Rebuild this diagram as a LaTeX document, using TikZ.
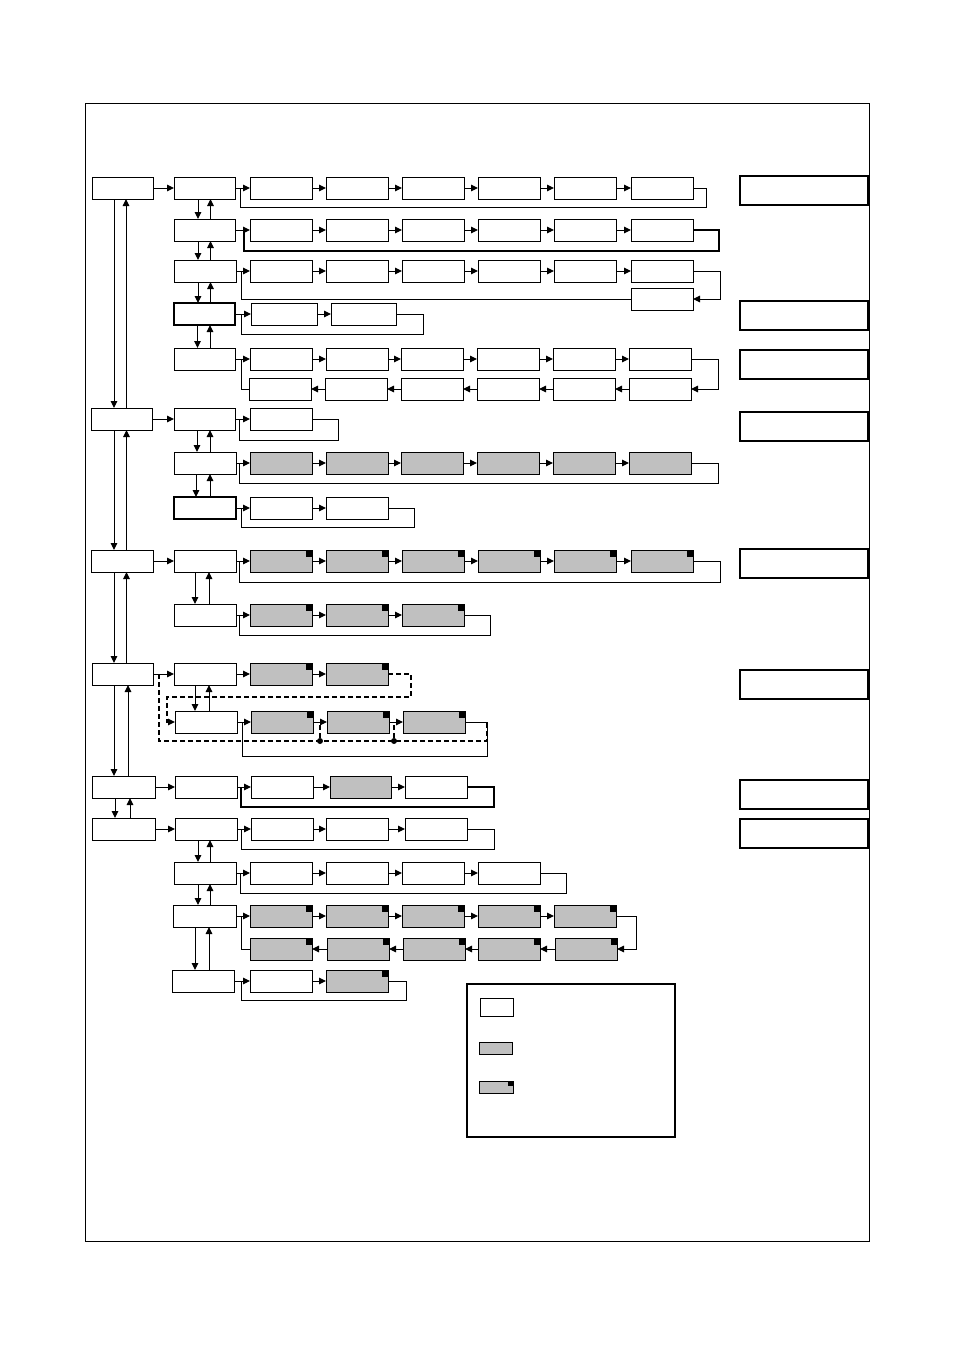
\documentclass[tikz,border=0pt]{standalone}
\usetikzlibrary{arrows.meta}
\definecolor{boxgray}{RGB}{192,192,192}
\tikzset{
 box/.style={draw, line width=1pt, minimum height=22pt, inner sep=0pt, outer sep=0pt, anchor=north west, fill=white},
 gbox/.style={box, fill=boxgray},
 cbox/.style={gbox, path picture={\fill[black] ([xshift=-6.5pt,yshift=-6.5pt]path picture bounding box.north east) rectangle (path picture bounding box.north east);}},
 sidebox/.style={box, minimum height=29pt, minimum width=128pt, line width=1.3pt},
 arr/.style={line width=1pt, -{Triangle[length=7pt,width=6.5pt]}},
 ln/.style={line width=1pt},
 tk/.style={line width=1.8pt},
 dl/.style={line width=1.4pt, dash pattern=on 5pt off 3pt},
 dot/.style={circle, fill=black, inner sep=0pt, minimum size=6pt},
}
\newcommand\mybox[5][box]{\node[#1, minimum width=#5pt] (#2) at (#3,#4) {};}
\begin{document}
\begin{tikzpicture}[x=1pt,y=-1pt]
\useasboundingbox (0,0) rectangle (954,1350);
\draw[line width=1pt] (85.5,103.5) rectangle (869,1241);

% ---------- left column
\mybox{A1}{92}{177}{61}
\mybox{A2}{91}{408}{61}
\mybox{A3}{91}{550}{62}
\mybox{A4}{92}{663}{61}
\mybox{A5}{92}{776}{63}
\mybox{A6}{92}{818}{63}

% ---------- second column
\mybox{r1c2}{174}{177}{61}
\mybox{r2c2}{174}{219}{61}
\mybox{r3c2}{174}{260}{62}
\mybox[box,line width=1.6pt]{r4c2}{174}{303}{61}
\mybox{r5c2}{174}{348}{61}
\mybox{r6c2}{174}{408}{61}
\mybox{r7c2}{174}{452}{62}
\mybox[box,line width=1.5pt]{r8c2}{174}{497}{62}
\mybox{r9c2}{174}{550}{62}
\mybox{r10c2}{174}{604}{62}
\mybox{r11c2}{174}{663}{62}
\mybox{r12c2}{175}{711}{62}
\mybox{r13c2}{175}{776}{62}
\mybox{r14c2}{175}{818}{62}
\mybox{r15c2}{174}{862}{62}
\mybox{r16c2}{173}{905}{63}
\mybox{r17c2}{172}{970}{62}

% ---------- rows
\foreach \n/\x in {3/250,4/326,5/402,6/478,7/554,8/631} {\mybox{r1c\n}{\x}{177}{62}}
\foreach \n/\x in {3/250,4/326,5/402,6/478,7/554,8/631} {\mybox{r2c\n}{\x}{219}{62}}
\foreach \n/\x in {3/250,4/326,5/402,6/478,7/554,8/631} {\mybox{r3c\n}{\x}{260}{62}}
\mybox{r3d}{631}{288}{62}
\mybox{r4c3}{251}{303}{66}
\mybox{r4c4}{331}{303}{65}
\foreach \n/\x in {3/250,4/326,5/401,6/477,7/553,8/629} {\mybox{r5c\n}{\x}{348}{62}}
\foreach \n/\x in {3/249,4/325,5/401,6/477,7/553,8/629} {\mybox{r5d\n}{\x}{378}{62}}
\mybox{r6c3}{250}{408}{62}
\foreach \n/\x in {3/250,4/326,5/401,6/477,7/553,8/629} {\mybox[gbox]{r7c\n}{\x}{452}{62}}
\mybox{r8c3}{250}{497}{62}
\mybox{r8c4}{326}{497}{62}
\foreach \n/\x in {3/250,4/326,5/402,6/478,7/554,8/631} {\mybox[cbox]{r9c\n}{\x}{550}{62}}
\foreach \n/\x in {3/250,4/326,5/402} {\mybox[cbox]{r10c\n}{\x}{604}{62}}
\foreach \n/\x in {3/250,4/326} {\mybox[cbox]{r11c\n}{\x}{663}{62}}
\foreach \n/\x in {3/251,4/327,5/403} {\mybox[cbox]{r12c\n}{\x}{711}{62}}
\mybox{r13c3}{251}{776}{62}
\mybox[gbox]{r13c4}{330}{776}{61}
\mybox{r13c5}{405}{776}{62}
\mybox{r14c3}{251}{818}{62}
\mybox{r14c4}{326}{818}{62}
\mybox{r14c5}{405}{818}{62}
\foreach \n/\x in {3/250,4/326,5/402,6/478} {\mybox{r15c\n}{\x}{862}{62}}
\foreach \n/\x in {3/250,4/326,5/402,6/478,7/554} {\mybox[cbox]{r16c\n}{\x}{905}{62}}
\foreach \n/\x in {3/250,4/327,5/403,6/478,7/555} {\mybox[cbox]{r16d\n}{\x}{938}{62}}
\mybox{r17c3}{250}{970}{62}
\mybox[cbox]{r17c4}{326}{970}{62}

% ---------- side boxes
\foreach \i/\y in {1/176,2/301,3/350,4/412,5/549,6/670,7/780,8/819} {\node[sidebox] (S\i) at (740,\y) {};}

% ---------- legend
\node[box, line width=1.4pt, minimum width=208pt, minimum height=153pt] (leg) at (467,984) {};
\node[box, minimum width=33pt, minimum height=18pt] (L1) at (480,998) {};
\node[gbox, minimum width=33pt, minimum height=12pt] (L2) at (479,1042) {};
\node[gbox, minimum width=34pt, minimum height=12pt, path picture={\fill[black] ([xshift=-5pt,yshift=-5pt]path picture bounding box.north east) rectangle (path picture bounding box.north east);}] (L3) at (479,1081) {};

% ---------- left column vertical arrows
\draw[arr] ([xshift=-8.5pt]A1.south) -- ([xshift=-8.5pt]A1.south |- A2.north);
\draw[arr] ([xshift=4.5pt]A2.north) -- ([xshift=4.5pt]A2.north |- A1.south);
\draw[arr] ([xshift=-7.5pt]A2.south) -- ([xshift=-7.5pt]A2.south |- A3.north);
\draw[arr] ([xshift=4.5pt]A3.north) -- ([xshift=4.5pt]A3.north |- A2.south);
\draw[arr] ([xshift=-8pt]A3.south) -- ([xshift=-8pt]A3.south |- A4.north);
\draw[arr] ([xshift=4pt]A4.north) -- ([xshift=4pt]A4.north |- A3.south);
\draw[arr] ([xshift=-8.5pt]A4.south) -- ([xshift=-8.5pt]A4.south |- A5.north);
\draw[arr] ([xshift=4.5pt]A5.north) -- ([xshift=4.5pt]A5.north |- A4.south);
\draw[arr] ([xshift=-8.5pt]A5.south) -- ([xshift=-8.5pt]A5.south |- A6.north);
\draw[arr] ([xshift=6.5pt]A6.north) -- ([xshift=6.5pt]A6.north |- A5.south);

% left column to second column
\draw[arr] (A1.east) -- (r1c2.west);
\draw[arr] (A2.east) -- (r6c2.west);
\draw[arr] (A3.east) -- (r9c2.west);
\draw[arr] (A4.east) -- (r11c2.west);
\draw[arr] (A5.east) -- (r13c2.west);
\draw[arr] (A6.east) -- (r14c2.west);

% ---------- second column vertical arrows
\foreach \a/\b/\d/\u in {r1c2/r2c2/-6.5/6, r2c2/r3c2/-6.5/6, r3c2/r4c2/-7/5.5, r4c2/r5c2/-7/5.5,
  r6c2/r7c2/-7.5/5.5, r7c2/r8c2/-9/5, r9c2/r10c2/-10/4, r11c2/r12c2/-10/4,
  r14c2/r15c2/-8/4, r15c2/r16c2/-7/5, r16c2/r17c2/-9.5/4.5} {
  \draw[arr] ([xshift=\d pt]\a.south) -- ([xshift=\d pt]\a.south |- \b.north);
  \draw[arr] ([xshift=\u pt]\a.south |- \b.north) -- ([xshift=\u pt]\a.south);
}

% ---------- horizontal chains
\foreach \r/\n in {1/8,2/8,3/8,5/8,7/8,9/8} {
  \draw[arr] (r\r c2.east) -- (r\r c3.west);
  \foreach \i [evaluate=\i as \j using int(\i+1)] in {3,...,7} {\draw[arr] (r\r c\i.east) -- (r\r c\j.west);}
}
\draw[arr] (r4c2.east) -- (r4c3.west);
\draw[arr] (r4c3.east) -- (r4c4.west);
\draw[arr] (r6c2.east) -- (r6c3.west);
\draw[arr] (r8c2.east) -- (r8c3.west);
\draw[arr] (r8c3.east) -- (r8c4.west);
\foreach \r/\n in {10/5,12/5,13/5,14/5} {
  \draw[arr] (r\r c2.east) -- (r\r c3.west);
  \draw[arr] (r\r c3.east) -- (r\r c4.west);
  \draw[arr] (r\r c4.east) -- (r\r c5.west);
}
\draw[arr] (r11c2.east) -- (r11c3.west);
\draw[arr] (r11c3.east) -- (r11c4.west);
\draw[arr] (r15c2.east) -- (r15c3.west);
\draw[arr] (r15c3.east) -- (r15c4.west);
\draw[arr] (r15c4.east) -- (r15c5.west);
\draw[arr] (r15c5.east) -- (r15c6.west);
\draw[arr] (r16c2.east) -- (r16c3.west);
\foreach \i [evaluate=\i as \j using int(\i+1)] in {3,...,6} {\draw[arr] (r16c\i.east) -- (r16c\j.west);}
\draw[arr] (r17c2.east) -- (r17c3.west);
\draw[arr] (r17c3.east) -- (r17c4.west);
% lower return chains
\foreach \i [evaluate=\i as \j using int(\i-1)] in {8,...,4} {\draw[arr] (r5d\i.west) -- (r5d\j.east);}
\foreach \i [evaluate=\i as \j using int(\i-1)] in {7,...,4} {\draw[arr] (r16d\i.west) -- (r16d\j.east);}

% ---------- loops
\draw[ln] (r1c8.east) -| (706,207) -| ([xshift=-10pt]r1c3.west);
\draw[tk] (r2c8.east) -| (719,251) -| ([xshift=-6pt]r2c3.west);
\draw[arr] (r3c8.east) -| (720,299) -- (r3d.east);
\draw[ln] (r3d.west) -| ([xshift=-9pt]r3c3.west);
\draw[ln] (r4c4.east) -| (423,334) -| ([xshift=-10pt]r4c3.west);
\draw[arr] (r5c8.east) -| (718,389) -- (r5d8.east);
\draw[ln] (r5d3.west) -| ([xshift=-9pt]r5c3.west);
\draw[ln] (r6c3.east) -| (338,440) -| ([xshift=-11pt]r6c3.west);
\draw[ln] (r7c8.east) -| (718,483) -| ([xshift=-11pt]r7c3.west);
\draw[ln] (r8c4.east) -| (414,527) -| ([xshift=-9pt]r8c3.west);
\draw[ln] (r9c8.east) -| (720,582) -| ([xshift=-11pt]r9c3.west);
\draw[ln] (r10c5.east) -| (490,635) -| ([xshift=-11pt]r10c3.west);
\draw[ln] (r12c5.east) -| (487,756) -| ([xshift=-9pt]r12c3.west);
\draw[tk] (r13c5.east) -| (494,807) -| ([xshift=-10pt]r13c3.west);
\draw[ln] (r14c5.east) -| (494,849) -| ([xshift=-10pt]r14c3.west);
\draw[ln] (r15c6.east) -| (566,893) -| ([xshift=-10pt]r15c3.west);
\draw[arr] (r16c7.east) -| (636,949) -- (r16d7.east);
\draw[ln] (r16d3.west) -| ([xshift=-9pt]r16c3.west);
\draw[ln] (r17c4.east) -| (406,1000) -| ([xshift=-9pt]r17c3.west);

% ---------- dashed paths (rows 11/12)
\draw[dl, -{Triangle[length=7pt,width=6.5pt]}] (r11c4.east) -| (411,697) -| (167,722) -- (r12c2.west);
\draw[dl] ([xshift=6pt]A4.east) |- (487,741) -- (487,722);
\node[dot] (d1) at (320,741) {};
\node[dot] (d2) at (394,741) {};
\draw[dl] (d1) -- (d1 |- r12c3.east);
\draw[dl] (d2) -- (d2 |- r12c4.east);
\end{tikzpicture}
\end{document}
